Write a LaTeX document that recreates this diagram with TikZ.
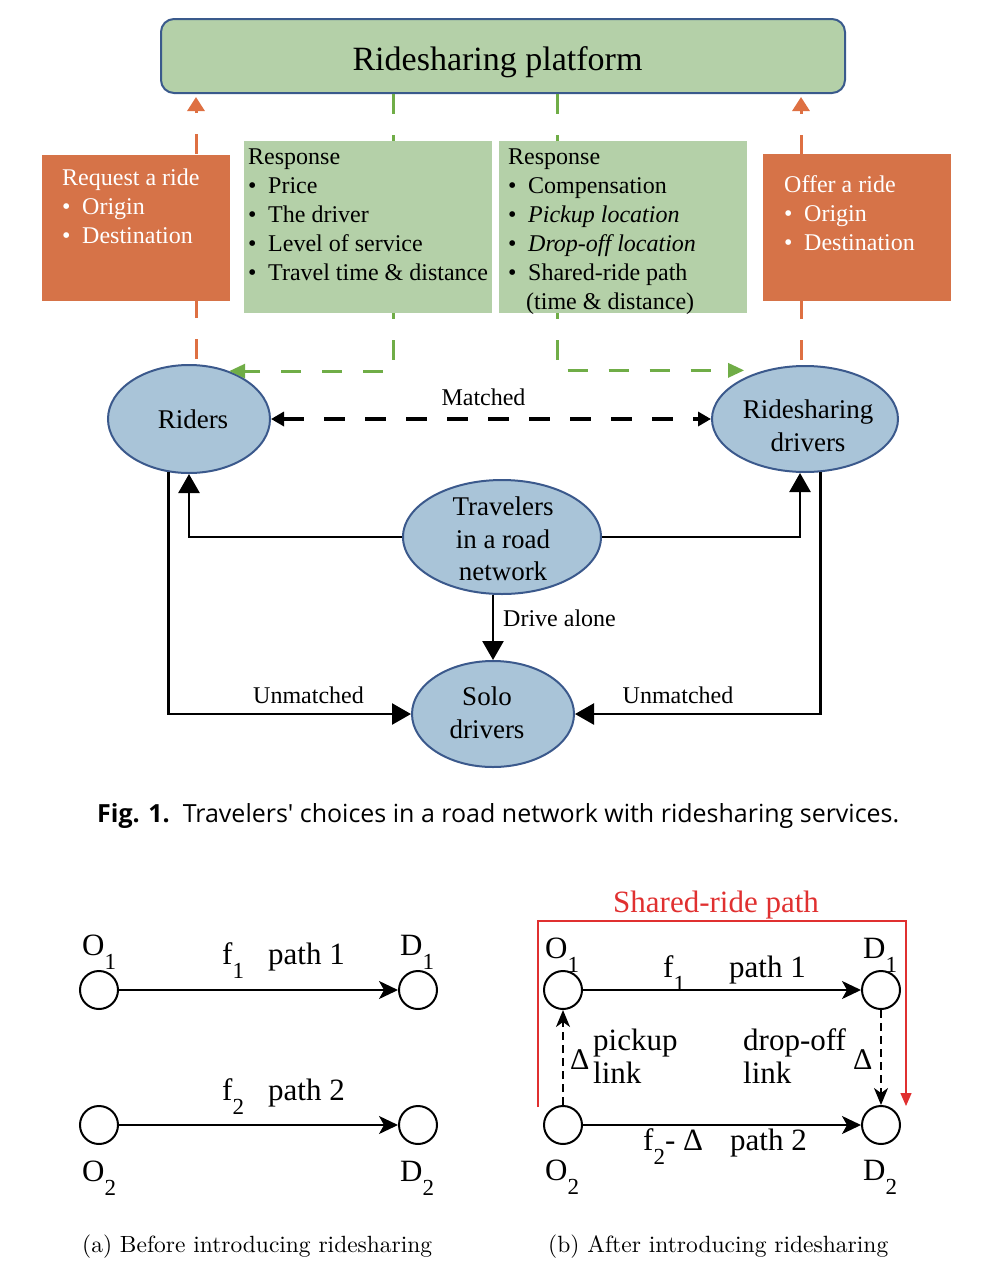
\documentclass[tikz,border=0pt]{standalone}
\usepackage{fontspec}
\usepackage{graphicx}
\newfontfamily\tnr{Liberation Serif}
\newfontfamily\capfont{Open Sans}
\usetikzlibrary{arrows.meta,shapes.geometric,calc}
\definecolor{boxgreen}{RGB}{180,208,168}
\definecolor{boxorange}{RGB}{214,115,72}
\definecolor{lineorange}{RGB}{222,112,66}
\definecolor{linegreen}{RGB}{112,173,71}
\definecolor{ellfill}{RGB}{169,196,216}
\definecolor{ellborder}{RGB}{59,89,140}
\definecolor{platborder}{RGB}{58,90,140}
\definecolor{sharedred}{RGB}{224,48,48}
\newcommand\itm{\makebox[20pt][l]{\textbullet}}
\newcommand\mysub[1]{\raisebox{-14pt}{\fontsize{23}{23}\selectfont #1}}
\begin{document}
\begin{tikzpicture}[x=1pt,y=-1pt,
  platbox/.style={draw=platborder, line width=2pt, fill=boxgreen, rounded corners=13pt, minimum width=684pt, minimum height=74pt, inner sep=0pt},
  obox/.style={fill=boxorange, inner sep=0pt},
  gbox/.style={fill=boxgreen, inner sep=0pt},
  ell/.style={ellipse, draw=ellborder, line width=2pt, fill=ellfill, inner sep=0pt},
  boxtxt/.style={font=\tnr\fontsize{24}{29}\selectfont, anchor=base west, inner sep=0pt},
  elltxt/.style={font=\tnr\fontsize{27}{32.5}\selectfont, align=center, inner sep=0pt},
  lbltxt/.style={font=\tnr\fontsize{24}{29}\selectfont, inner sep=0pt},
  oarrow/.style={draw=lineorange, line width=3pt, dash pattern=on 20pt off 21pt, dash phase=36pt, -{Triangle[length=14pt,width=17pt]}, shorten >=3pt},
  garrow/.style={draw=linegreen, line width=3pt, dash pattern=on 20pt off 21pt, -{Triangle[length=16pt,width=14pt]}},
  barrow/.style={draw=black, line width=2.5pt, -{Triangle[length=19pt,width=21pt]}},
  marrow/.style={draw=black, line width=3.5pt, dash pattern=on 21pt off 20pt, {Triangle[length=13pt,width=14pt]}-{Triangle[length=13pt,width=14pt]}},
  nd/.style={circle, draw, line width=2pt, minimum size=38pt, inner sep=0pt, fill=white},
  sarrow/.style={line width=2pt, -{Stealth[length=19pt,width=18pt,inset=5pt]}},
  darrow/.style={line width=1.8pt, dash pattern=on 8pt off 5pt, -{Stealth[length=17pt,width=14pt,inset=5pt]}},
  rarrow/.style={draw=sharedred, line width=1.3pt, -{Triangle[length=13pt,width=11pt]}},
  btxt/.style={font=\tnr\fontsize{31}{33}\selectfont, anchor=base west, inner sep=0pt},
  dtxt/.style={font=\tnr\fontsize{30}{30}\selectfont, anchor=base west, inner sep=0pt},
]
\useasboundingbox (0,0) rectangle (996,1274);

% platform
\node[platbox] (plat) at (503,56) {};
\node[font=\tnr\fontsize{34}{40}\selectfont, anchor=base, inner sep=0pt] (platlbl) at (497.5,70) {Ridesharing platform};

% ellipses
\node[ell, minimum width=162pt, minimum height=108pt] (riders) at (189,419) {};
\node[ell, minimum width=186pt, minimum height=106pt] (drivers) at (805,419) {};
\node[ell, minimum width=198pt, minimum height=114pt] (trav) at (502,537) {};
\node[ell, minimum width=162pt, minimum height=106pt] (solo) at (493,714) {};
\node[elltxt] (ridersT) at (193,419) {Riders};
\node[elltxt] (driversT) at (808,426) {Ridesharing\\drivers};
\node[elltxt] (travT) at (503,539) {Travelers\\in a road\\network};
\node[elltxt] (soloT) at (487,713) {Solo\\drivers};

% x positions of vertical dashed lines
\coordinate (ox1) at (196,0);
\coordinate (ox2) at (801,0);
\coordinate (gx1) at (393,0);
\coordinate (gx2) at (557,0);

% dashed request/response lines
\draw[oarrow] (riders.north -| ox1) -- (plat.south -| ox1);
\draw[oarrow] (drivers.north -| ox2) -- (plat.south -| ox2);
\draw[garrow] (plat.south -| gx1) |- (riders.50);
\draw[garrow, shorten >=20pt] (plat.south -| gx2) |- (drivers.130);

% boxes
\node[obox, minimum width=188pt, minimum height=146pt] (reqbox) at (136,228) {};
\node[gbox, minimum width=248pt, minimum height=172pt] (resp1) at (368,227) {};
\node[gbox, minimum width=248pt, minimum height=172pt] (resp2) at (623,227) {};
\node[obox, minimum width=188pt, minimum height=147pt] (offbox) at (857,227.5) {};

\node[boxtxt, text=white] (reqT) at (62,185) {\begin{tabular}[t]{@{}l@{}}Request a ride\\ \itm Origin\\ \itm Destination\end{tabular}};
\node[boxtxt] (resp1T) at (248,164) {\begin{tabular}[t]{@{}l@{}}Response\\ \itm Price\\ \itm The driver\\ \itm Level of service\\ \itm Travel time \& distance\end{tabular}};
\node[boxtxt] (resp2T) at (508,164) {\begin{tabular}[t]{@{}l@{}}Response\\ \itm Compensation\\ \itm \textit{Pickup location}\\ \itm \textit{Drop-off location}\\ \itm Shared-ride path\\ \hspace*{18pt}(time \& distance)\end{tabular}};
\node[boxtxt, text=white] (offT) at (784,192) {\begin{tabular}[t]{@{}l@{}}Offer a ride\\ \itm Origin\\ \itm Destination\end{tabular}};

% matched
\draw[marrow] (riders.east) -- (drivers.west);
\node[lbltxt, anchor=base] (matchedT) at (483.5,405) {Matched};

% solid flows
\draw[barrow] (trav.west) -| (riders.south);
\draw[barrow] (trav.east) -| ($(drivers.south)+(-5,0)$);
\draw[barrow] (trav.south -| solo.north) -- (solo.north);
\node[lbltxt, anchor=base west] (aloneT) at (503,626) {Drive alone};
\draw[barrow] (riders.249) |- (solo.west);
\draw[barrow] (drivers.286) |- (solo.east);
\node[lbltxt, anchor=base] (unm1) at (308.5,703) {Unmatched};
\node[lbltxt, anchor=base] (unm2) at (678,703) {Unmatched};

% caption
\node[anchor=base west, inner sep=0pt] (cap) at (97,822) {\resizebox{802pt}{!}{\capfont\textbf{Fig. 1.}\ \ Travelers' choices in a road network with ridesharing services.}};

% (a)
\node[nd] (o1a) at (99,990) {};
\node[nd] (d1a) at (418,990) {};
\node[nd] (o2a) at (99,1125) {};
\node[nd] (d2a) at (418,1125) {};
\draw[sarrow] (o1a) -- (d1a);
\draw[sarrow] (o2a) -- (d2a);
\node[btxt] (o1aT) at (82,955) {O\mysub{1}};
\node[btxt] (d1aT) at (400,955) {D\mysub{1}};
\node[btxt] (f1aT) at (222,964) {f\mysub{1}};
\node[btxt] (p1aT) at (268,964) {path 1};
\node[btxt] (f2aT) at (222,1100) {f\mysub{2}};
\node[btxt] (p2aT) at (268,1100) {path 2};
\node[btxt] (o2aT) at (82,1181) {O\mysub{2}};
\node[btxt] (d2aT) at (400,1181) {D\mysub{2}};

% (b)
\coordinate (rs) at (538,1107);
\coordinate (rtop) at (538,921);
\coordinate (re) at (906,1106);
\draw[rarrow] (rs) -- (rtop) -| (re);
\node[btxt, text=sharedred] (sharedT) at (613,912) {Shared-ride path};
\node[nd] (o1b) at (563,990) {};
\node[nd] (d1b) at (881,990) {};
\node[nd] (o2b) at (563,1125) {};
\node[nd] (d2b) at (881,1125) {};
\draw[sarrow] (o1b) -- (d1b);
\draw[sarrow] (o2b) -- (d2b);
\draw[darrow] (o2b) -- (o1b);
\draw[darrow] (d1b) -- (d2b);
\node[btxt] (o1bT) at (545,958) {O\mysub{1}};
\node[btxt] (d1bT) at (863,958) {D\mysub{1}};
\node[btxt] (f1bT) at (663,977) {f\mysub{1}};
\node[btxt] (p1bT) at (729,977) {path 1};
\node[btxt] (pickT) at (593,1050) {pickup};
\node[btxt] (pickL) at (593,1083) {link};
\node[dtxt] (delta1) at (570,1069) {Δ};
\node[btxt] (dropT) at (743,1050) {drop-off};
\node[btxt] (dropL) at (743,1083) {link};
\node[dtxt] (delta2) at (853,1069) {Δ};
\node[btxt] (f2bT) at (643,1150) {f\mysub{2}- Δ};
\node[btxt] (p2bT) at (730,1150) {path 2};
\node[btxt] (o2bT) at (545,1180) {O\mysub{2}};
\node[btxt] (d2bT) at (863,1180) {D\mysub{2}};

% sub-captions
\node[anchor=base west, inner sep=0pt] (capa) at (82,1252) {\resizebox{350pt}{!}{(a) Before introducing ridesharing}};
\node[anchor=base west, inner sep=0pt] (capb) at (548,1252) {\resizebox{340pt}{!}{(b) After introducing ridesharing}};
\end{tikzpicture}
\end{document}
